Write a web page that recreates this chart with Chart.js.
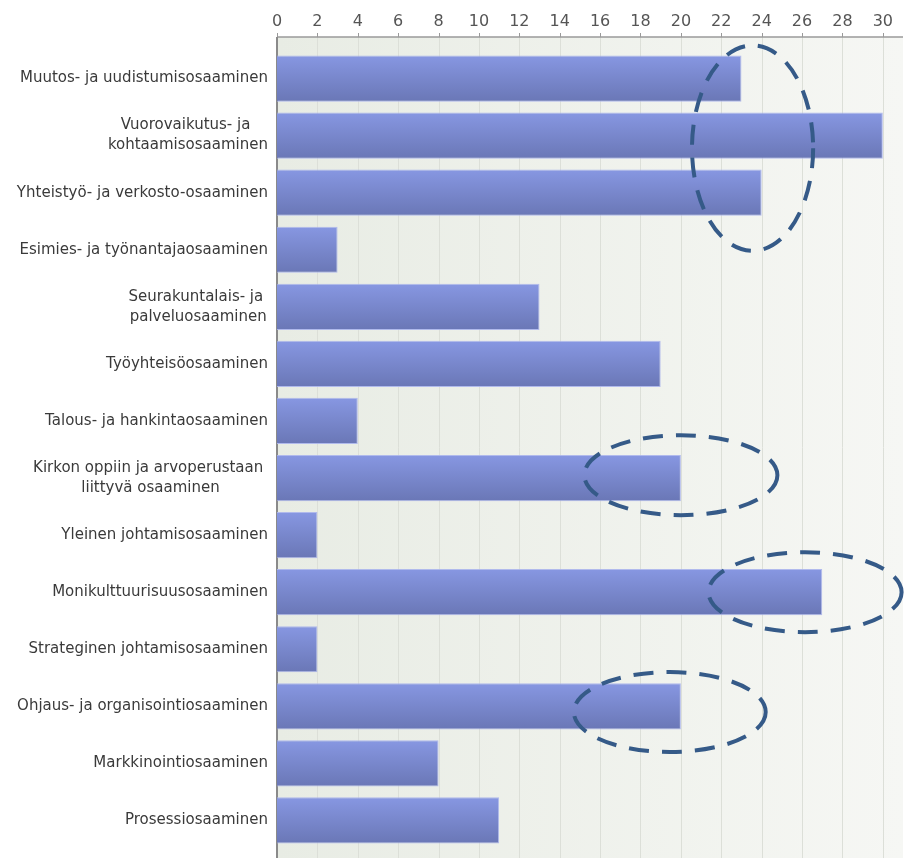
<!DOCTYPE html>
<html lang="fi">
<head>
  <meta charset="UTF-8" />
  <title>Osaamisalueet</title>
  <script src="https://cdn.jsdelivr.net/npm/chart.js"></script>
  <style>
    html, body { margin: 0; padding: 0; background: #fff; }
    #wrap { width: 904px; height: 858px; }
  </style>
</head>
<body>
  <div id="wrap"><canvas id="chart"></canvas></div>

  <script>
    // categories (multi-line labels as arrays)
    const categories = [
      "Muutos- ja uudistumisosaaminen",
      ["Vuorovaikutus- ja ", "kohtaamisosaaminen"],
      "Yhteistyö- ja verkosto-osaaminen",
      "Esimies- ja työnantajaosaaminen",
      ["Seurakuntalais- ja ", "palveluosaaminen"],
      "Työyhteisöosaaminen",
      "Talous- ja hankintaosaaminen",
      ["Kirkon oppiin ja arvoperustaan ", "liittyvä osaaminen"],
      "Yleinen johtamisosaaminen",
      "Monikulttuurisuusosaaminen",
      "Strateginen johtamisosaaminen",
      "Ohjaus- ja organisointiosaaminen",
      "Markkinointiosaaminen",
      "Prosessiosaaminen"
    ];
    const counts = [23, 30, 24, 3, 13, 19, 4, 20, 2, 27, 2, 20, 8, 11];
    const tickValues = [0, 2, 4, 6, 8, 10, 12, 14, 16, 18, 20, 22, 24, 26, 28, 30];

    // dashed ellipses: centre in value / row units, radii in value / row units
    const ellipseX = [23.55, 20.0, 26.15, 19.45];
    const ellipseRow = [1.22, 6.95, 9.0, 11.1];
    const ellipseRx = [3.0, 4.78, 4.78, 4.75];
    const ellipseRy = [1.8, 0.7, 0.7, 0.7];

    const xMax = 31;
    const BAR_PCT = 0.81;

    const backdrop = {
      id: "backdrop",
      beforeDatasetsDraw(chart) {
        const { ctx, chartArea } = chart;
        const x = chart.scales.x;
        const top = chartArea.top - 13;
        const bottom = chart.height;

        ctx.save();
        const g = ctx.createLinearGradient(chartArea.left, 0, chartArea.right, 0);
        g.addColorStop(0, "#e8ece4");
        g.addColorStop(1, "#f6f7f4");
        ctx.fillStyle = g;
        ctx.fillRect(chartArea.left, top, chartArea.right - chartArea.left, bottom - top);

        // grid lines + tick marks
        x.ticks.forEach(t => {
          const px = Math.round(x.getPixelForValue(t.value)) + 0.5;
          ctx.strokeStyle = "#dcdfd8";
          ctx.lineWidth = 1;
          ctx.beginPath();
          ctx.moveTo(px, top);
          ctx.lineTo(px, bottom);
          ctx.stroke();
          ctx.strokeStyle = "#9a9a9a";
          ctx.beginPath();
          ctx.moveTo(px, top - 4);
          ctx.lineTo(px, top);
          ctx.stroke();
        });

        // axis lines
        ctx.strokeStyle = "#9a9a9a";
        ctx.lineWidth = 1.5;
        ctx.beginPath();
        ctx.moveTo(chartArea.left, top);
        ctx.lineTo(chartArea.right, top);
        ctx.stroke();
        ctx.strokeStyle = "#8a8a8a";
        ctx.lineWidth = 2;
        ctx.beginPath();
        ctx.moveTo(chartArea.left, top);
        ctx.lineTo(chartArea.left, bottom);
        ctx.stroke();
        ctx.restore();
      },
      afterDraw(chart) {
        const { ctx, chartArea } = chart;
        const x = chart.scales.x;
        const y = chart.scales.y;

        // category labels: block right-aligned, lines centred within block
        ctx.save();
        ctx.font = "15px 'DejaVu Sans'";
        ctx.fillStyle = "#3a3a3a";
        ctx.textBaseline = "middle";
        ctx.textAlign = "center";
        const lh = 20;
        categories.forEach((lab, i) => {
          const lines = Array.isArray(lab) ? lab : [lab];
          const w = Math.max(...lines.map(l => ctx.measureText(l).width));
          const cx = chartArea.left - 9 - w / 2;
          const cy = y.getPixelForValue(i);
          lines.forEach((l, j) => {
            ctx.fillText(l, cx, cy + (j - (lines.length - 1) / 2) * lh);
          });
        });

        // dashed ellipses
        const rowH = y.getPixelForValue(1) - y.getPixelForValue(0);
        const unit = x.getPixelForValue(1) - x.getPixelForValue(0);
        ctx.strokeStyle = "#355a88";
        ctx.lineWidth = 4;
        ctx.setLineDash([20, 13]);
        ellipseX.forEach((v, i) => {
          ctx.beginPath();
          ctx.ellipse(x.getPixelForValue(v), y.getPixelForValue(0) + ellipseRow[i] * rowH,
            ellipseRx[i] * unit, ellipseRy[i] * rowH, 0, 0, Math.PI * 2);
          ctx.stroke();
        });
        ctx.restore();
      }
    };

    function barFill(context) {
      const chart = context.chart;
      const y = chart.scales.y;
      if (!chart.chartArea || !y) return "#7886cc";
      const c = y.getPixelForValue(context.dataIndex);
      const half = (y.getPixelForValue(1) - y.getPixelForValue(0)) * BAR_PCT / 2;
      const g = chart.ctx.createLinearGradient(0, c - half, 0, c + half);
      g.addColorStop(0, "#8797e2");
      g.addColorStop(1, "#6a77b6");
      return g;
    }

    new Chart(document.getElementById("chart"), {
      type: "bar",
      data: {
        labels: categories,
        datasets: [{
          data: counts,
          backgroundColor: barFill,
          borderColor: "rgba(170,180,236,0.9)",
          borderWidth: 1,
          borderSkipped: "left",
          barPercentage: BAR_PCT,
          categoryPercentage: 1
        }]
      },
      options: {
        indexAxis: "y",
        responsive: true,
        maintainAspectRatio: false,
        animation: false,
        layout: { padding: { top: 0, right: 0, bottom: 9, left: 0 } },
        plugins: {
          legend: { display: false },
          tooltip: { enabled: false }
        },
        scales: {
          x: {
            position: "top",
            min: 0,
            max: xMax,
            grid: { display: false },
            border: { display: false },
            ticks: {
              padding: 11,
              color: "#555",
              font: { family: "'DejaVu Sans'", size: 16 }
            },
            afterBuildTicks: s => { s.ticks = tickValues.map(v => ({ value: v })); },
            afterFit: s => { s.height = 50; }
          },
          y: {
            grid: { display: false },
            border: { display: false },
            ticks: { display: false },
            afterFit: s => { s.width = 277; }
          }
        }
      },
      plugins: [backdrop]
    });
  </script>
</body>
</html>
